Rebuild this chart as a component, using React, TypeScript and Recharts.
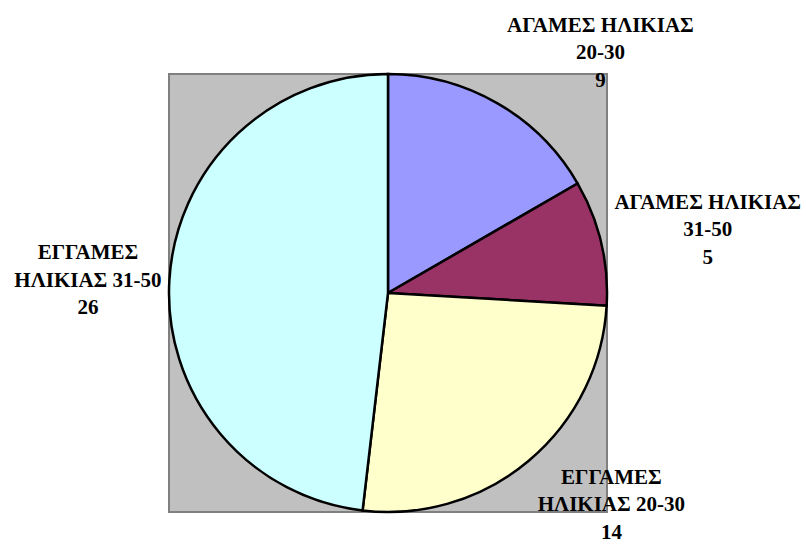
import React from 'react';
import { PieChart, Pie, Cell, Customized } from 'recharts';

// categories, split into the lines used by the labels
const categoryLines = [
  ['ΑΓΑΜΕΣ ΗΛΙΚΙΑΣ', '20-30'],
  ['ΑΓΑΜΕΣ ΗΛΙΚΙΑΣ', '31-50'],
  ['ΕΓΓΑΜΕΣ', 'ΗΛΙΚΙΑΣ 20-30'],
  ['ΕΓΓΑΜΕΣ', 'ΗΛΙΚΙΑΣ 31-50'],
];
const counts = [9, 5, 14, 26];

const colors = ['#9999FF', '#993366', '#FFFFCC', '#CCFFFF'];
// label anchor (middle line) relative to the centre, in units of the radius
const labelSpots = [
  [0.97, -1.1],
  [1.46, -0.29],
  [1.02, 0.965],
  [-1.37, -0.06],
];

const data = counts.map((value, i) => ({ name: categoryLines[i].join(' '), value, i }));

const CX = 388;
const CY = 293;
const R = 219;
const font = '"Liberation Serif", "Times New Roman", serif';

const renderLabel = (props: any) => {
  const { cx, cy, outerRadius, index } = props;
  const [fx, fy] = labelSpots[index];
  const x = cx + fx * outerRadius;
  const y = cy + fy * outerRadius;
  const lines = [...categoryLines[index], String(counts[index])];
  const gap = 27.5;
  return (
    <text
      key={`lbl-${index}`}
      x={x}
      y={y}
      textAnchor="middle"
      style={{ fontFamily: font, fontWeight: 'bold', fontSize: 21 }}
      fill="#000"
    >
      {lines.map((ln, k) => (
        <tspan key={k} x={x} y={y + (k - 1) * gap} dominantBaseline="central">
          {ln}
        </tspan>
      ))}
    </text>
  );
};

export default function App() {
  return (
    <div style={{ position: 'fixed', left: 0, top: 0, width: 806, height: 546, background: '#fff' }}>
      <PieChart width={806} height={546} margin={{ top: 0, right: 0, bottom: 0, left: 0 }}>
        <Customized
          component={() => (
            <rect
              x={CX - R}
              y={CY - R}
              width={2 * R}
              height={2 * R}
              fill="#C0C0C0"
              stroke="#808080"
              strokeWidth={2}
            />
          )}
        />
        <Pie
          data={data}
          dataKey="value"
          nameKey="name"
          cx={CX}
          cy={CY}
          outerRadius={R}
          startAngle={90}
          endAngle={-270}
          stroke="#000"
          strokeWidth={2.5}
          label={renderLabel}
          labelLine={false}
          isAnimationActive={false}
        >
          {data.map((d) => (
            <Cell key={d.i} fill={colors[d.i]} />
          ))}
        </Pie>
      </PieChart>
    </div>
  );
}
